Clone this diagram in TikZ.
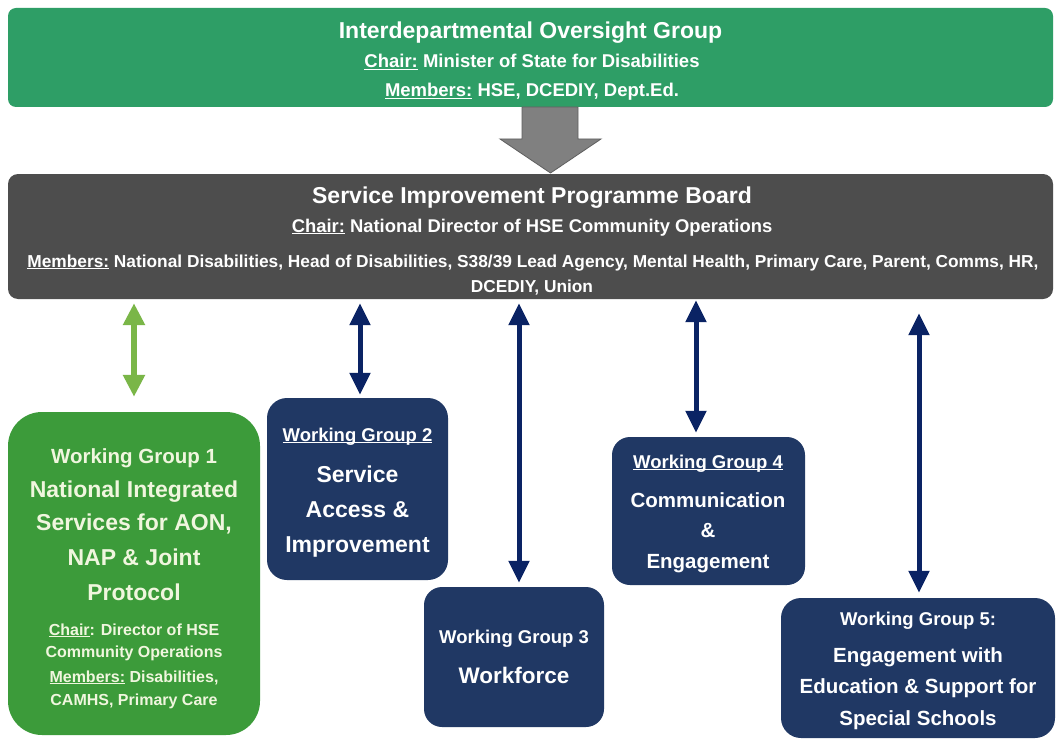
\documentclass[tikz,border=0pt]{standalone}
\usepackage{fontspec}
\setmainfont{Liberation Sans}
\usetikzlibrary{arrows.meta}
\definecolor{topgreen}{RGB}{46,158,102}
\definecolor{boardgray}{RGB}{77,77,77}
\definecolor{wggreen}{RGB}{60,155,58}
\definecolor{wgnavy}{RGB}{32,56,100}
\definecolor{arrgreen}{RGB}{122,182,72}
\definecolor{arrnavy}{RGB}{10,35,100}
\definecolor{biggray}{RGB}{128,128,128}
\definecolor{bigedge}{RGB}{95,95,95}
\definecolor{cream}{RGB}{240,246,222}
\newcommand\myul[1]{\setbox0\hbox{#1}\rlap{\rule[-2pt]{\wd0}{1.2pt}}\box0\relax}
\newcommand\fs[1]{\fontsize{#1}{#1}\selectfont\bfseries}
\tikzset{
  panel/.style={rectangle, inner sep=0pt, draw=none},
  txt/.style={anchor=base, inner sep=0pt, text=white},
  ctxt/.style={anchor=base, inner sep=0pt, text=cream},
  greenarr/.style={draw=arrgreen, line width=6pt,
    {Triangle[width=21pt,length=22pt]}-{Triangle[width=21pt,length=22pt]}},
  navyarr/.style={draw=arrnavy, line width=5pt,
    {Triangle[width=20pt,length=22pt]}-{Triangle[width=20pt,length=22pt]}},
}
\begin{document}
\begin{tikzpicture}[x=1pt,y=-1pt]
\useasboundingbox[fill=white] (0,0) rectangle (1056,738);

% Top box
\node[panel, fill=topgreen, rounded corners=8pt, minimum width=1045pt, minimum height=99pt] (iog) at (530.5,57.5) {};
\node[txt, font=\fs{23}] (iogt) at (530.5,39) {Interdepartmental Oversight Group};
\node[txt, font=\fs{18.5}] (iogc) at (532,68) {\myul{Chair:} Minister of State for Disabilities};
\node[txt, font=\fs{18.5}] (iogm) at (532,97) {\myul{Members:} HSE, DCEDIY, Dept.Ed.};

% Board
\node[panel, fill=boardgray, rounded corners=10pt, minimum width=1045pt, minimum height=125pt] (sib) at (530.5,236.5) {};
\node[txt, font=\fs{23}] (sibt) at (532,203) {Service Improvement Programme Board};
\node[txt, font=\fs{18.4}] (sibc) at (532,232) {\myul{Chair:} National Director of HSE Community Operations};
\node[txt, font=\fs{17.3}] (sibm) at (533,267) {\myul{Members:} National Disabilities, Head of Disabilities, S38/39 Lead Agency, Mental Health, Primary Care, Parent, Comms, HR,};
\node[txt, font=\fs{17.3}] (sibm2) at (532,292) {DCEDIY, Union};

% Big gray arrow
\filldraw[fill=biggray, draw=bigedge, line width=0.8pt]
  (522,107) -- (578,107) -- (578,139) -- (601,139) -- (550.5,173) -- (500,139) -- (522,139) -- cycle;

% WG1
\node[panel, fill=wggreen, rounded corners=34pt, minimum width=252pt, minimum height=323pt] (wg1) at (134,573.5) {};
\node[ctxt, font=\fs{20.5}] at (134,463) {Working Group 1};
\node[ctxt, font=\fs{23}] at (134,497) {National Integrated};
\node[ctxt, font=\fs{23}] at (134,530) {Services for AON,};
\node[ctxt, font=\fs{23}] at (134,565) {NAP \& Joint};
\node[ctxt, font=\fs{23}] at (134,600) {Protocol};
\node[ctxt, font=\fs{16}] at (134,635) {\myul{Chair}: Director of HSE};
\node[ctxt, font=\fs{16}] at (134,657) {Community Operations};
\node[ctxt, font=\fs{16}] at (134,682) {\myul{Members:} Disabilities,};
\node[ctxt, font=\fs{16}] at (134,705) {CAMHS, Primary Care};

% WG2
\node[panel, fill=wgnavy, rounded corners=20pt, minimum width=181pt, minimum height=182pt] (wg2) at (357.5,489) {};
\node[txt, font=\fs{18.5}] at (357.5,441) {\myul{Working Group 2}};
\node[txt, font=\fs{23}] at (357.5,482) {Service};
\node[txt, font=\fs{23}] at (357.5,517) {Access \&};
\node[txt, font=\fs{23}] at (357.5,552) {Improvement};

% WG3
\node[panel, fill=wgnavy, rounded corners=18pt, minimum width=180pt, minimum height=140pt] (wg3) at (514,657) {};
\node[txt, font=\fs{18.5}] at (514,643) {Working Group 3};
\node[txt, font=\fs{22.5}] at (514,683) {Workforce};

% WG4
\node[panel, fill=wgnavy, rounded corners=18pt, minimum width=193pt, minimum height=148pt] (wg4) at (708.5,511) {};
\node[txt, font=\fs{18.5}] at (708,468) {\myul{Working Group 4}};
\node[txt, font=\fs{20.5}] at (708,507) {Communication};
\node[txt, font=\fs{20.5}] at (708,537) {\&};
\node[txt, font=\fs{20.5}] at (708,568) {Engagement};

% WG5
\node[panel, fill=wgnavy, rounded corners=20pt, minimum width=274pt, minimum height=140pt] (wg5) at (918,668) {};
\node[txt, font=\fs{18.5}] at (918,625) {Working Group 5:};
\node[txt, font=\fs{20.5}] at (918,662) {Engagement with};
\node[txt, font=\fs{20.5}] at (918,693) {Education \& Support for};
\node[txt, font=\fs{20.5}] at (918,725) {Special Schools};

% Connectors
\draw[greenarr, shorten <=15pt, shorten >=4pt] (wg1.north) -- (wg1.north |- sib.south);
\draw[navyarr, shorten <=3pt, shorten >=4pt] ([xshift=2.5pt]wg2.north) -- ([xshift=2.5pt]wg2.north |- sib.south);
\draw[navyarr, shorten <=4pt, shorten >=4pt] ([xshift=5pt]wg3.north) -- ([xshift=5pt]wg3.north |- sib.south);
\draw[navyarr, shorten <=4pt, shorten >=1pt] ([xshift=-12.5pt]wg4.north) -- ([xshift=-12.5pt]wg4.north |- sib.south);
\draw[navyarr, shorten <=5pt, shorten >=14pt] ([xshift=1pt]wg5.north) -- ([xshift=1pt]wg5.north |- sib.south);
\end{tikzpicture}
\end{document}
